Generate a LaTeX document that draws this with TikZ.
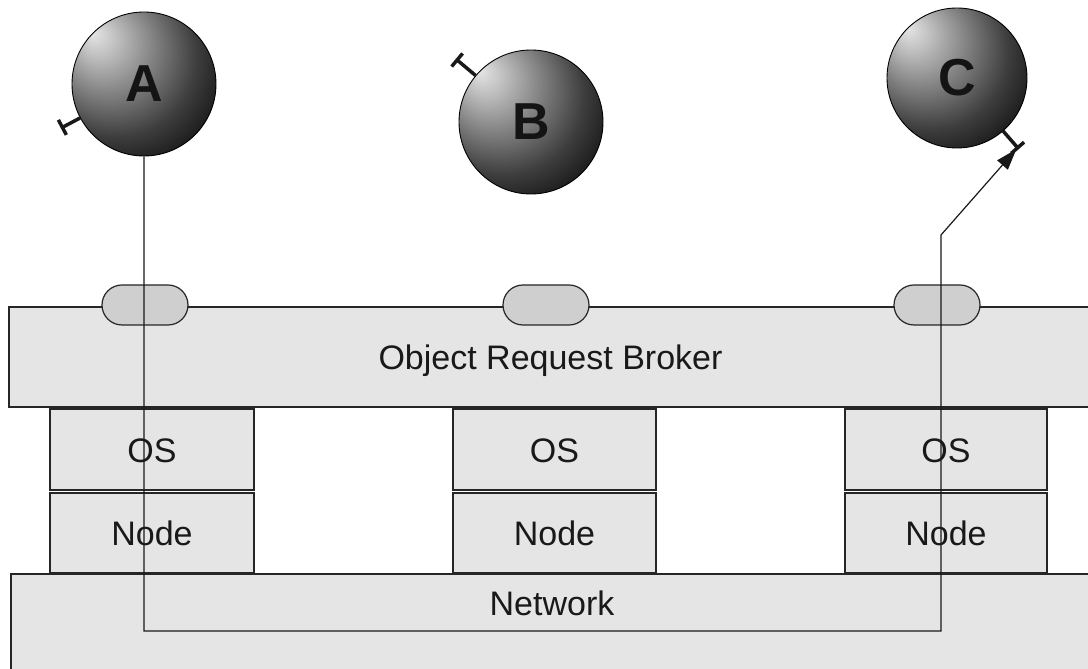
\documentclass[tikz,border=0pt]{standalone}
\usepackage{fontspec}
\setmainfont{Liberation Sans}
\usetikzlibrary{shapes.misc,arrows.meta,calc}

% sphere shading, highlight towards the upper left, dark towards the lower right
\pgfdeclareradialshading{orbsphere}{\pgfpoint{-18bp}{18bp}}{%
  color(0bp)=(black!10); color(6bp)=(black!24); color(16bp)=(black!48);
  color(28bp)=(black!76); color(40bp)=(black!96); color(60bp)=(black)}

\begin{document}
\begin{tikzpicture}[x=1pt,y=1pt,
  box/.style={draw=black!85, line width=1.3pt, fill=black!10, inner sep=0pt},
  lbl/.style={font=\fontsize{34}{40}\selectfont, text=black!90,
              text height=26pt, text depth=0pt},
  pill/.style={rounded rectangle, draw=black!85, line width=1.2pt, fill=black!19,
               minimum width=86pt, minimum height=40pt, inner sep=0pt},
  orb/.style={circle, draw=black, line width=0.9pt, shading=orbsphere,
              inner sep=0pt, text=black!92,
              font=\fontsize{52}{60}\selectfont\bfseries},
  stub/.style={line width=3.5pt, draw=black!90},
  wire/.style={line width=1.2pt, draw=black!90}
]
\useasboundingbox (0,0) rectangle (1088,669);

% network layer
\node[box, minimum width=1082pt, minimum height=110pt] (net) at (552,40) {};
\node[font=\fontsize{34}{40}\selectfont, text=black!90, anchor=base] (nettext) at (552,53) {Network};

% hosts: node and operating system
\node[box, lbl, minimum width=204pt, minimum height=80pt] (nodeL) at (152,136) {Node};
\node[box, lbl, minimum width=203pt, minimum height=80pt] (nodeM) at (554.5,136) {Node};
\node[box, lbl, minimum width=202pt, minimum height=80pt] (nodeR) at (946,136) {Node};
\node[box, lbl, minimum width=204pt, minimum height=81pt] (osL) at (152,219.5) {OS};
\node[box, lbl, minimum width=203pt, minimum height=81pt] (osM) at (554.5,219.5) {OS};
\node[box, lbl, minimum width=202pt, minimum height=81pt] (osR) at (946,219.5) {OS};

% object request broker with its interface ports
\node[box, lbl, minimum width=1083pt, minimum height=100pt] (orb) at (550.5,312) {Object Request Broker};
\node[pill] (portA) at (145,364) {};
\node[pill] (portB) at (546,364) {};
\node[pill] (portC) at (937,364) {};

% objects
\node[orb, minimum size=144pt] (A) at (144,585) {A};
\node[orb, minimum size=144pt] (B) at (531,547) {B};
\node[orb, minimum size=140pt] (C) at (957,591) {C};

% request path from A through the broker and the network to C
\coordinate (turnL) at (A.south |- 0,38);
\coordinate (turnR) at (941,38);
\coordinate (bend) at (941,434);

% interface stubs
\draw[stub] (A.208) -- ++(208:20) coordinate (Abar);
\draw[stub] ($(Abar)+(118:8.5)$) -- ($(Abar)+(-62:8.5)$);
\draw[stub] (B.140) -- ++(140:24) coordinate (Bbar);
\draw[stub] ($(Bbar)+(50:8.5)$) -- ($(Bbar)+(230:8.5)$);
\draw[stub] (C.-49) -- ++(-49:22) coordinate (Cbar);
\draw[stub] ($(Cbar)+(41:8.5)$) -- ($(Cbar)+(221:8.5)$);

\draw[wire, -{Triangle[length=21pt,width=14pt]}, shorten >=2pt]
  (A.south) -- (turnL) -- (turnR) -- (bend) -- (Cbar);
\end{tikzpicture}
\end{document}
